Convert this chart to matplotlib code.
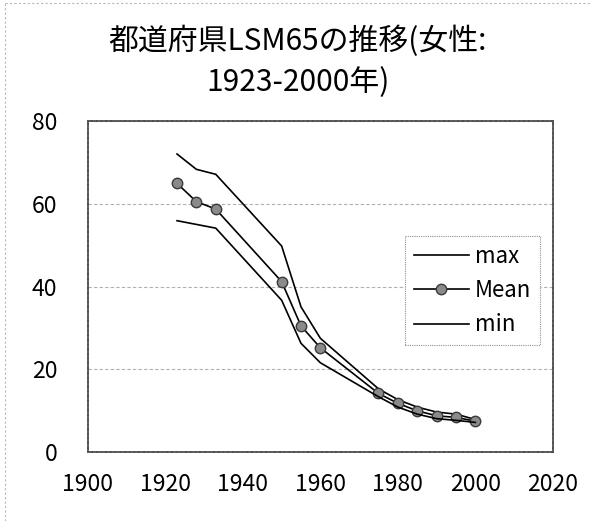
import matplotlib
matplotlib.use("Agg")
from matplotlib import pyplot as plt
from matplotlib.lines import Line2D

plt.rcParams['font.family'] = ['Noto Sans CJK JP', 'DejaVu Sans']

# data
years = [1923, 1928, 1933, 1950, 1955, 1960, 1975, 1980, 1985, 1990, 1995, 2000]
lsm_max = [72.0, 68.3, 67.1, 49.8, 35.1, 27.5, 15.3, 12.7, 10.9, 9.7, 9.2, 7.9]
lsm_mean = [64.9, 60.5, 58.7, 41.2, 30.5, 25.2, 14.2, 11.8, 10.0, 8.8, 8.4, 7.5]
lsm_min = [55.9, 55.0, 54.1, 36.7, 26.3, 21.6, 13.4, 10.9, 9.2, 8.1, 7.7, 7.2]

x_ticks = [1900, 1920, 1940, 1960, 1980, 2000, 2020]
y_ticks = [0, 20, 40, 60, 80]
title = "都道府県LSM65の推移(女性:\n1923-2000年)"

fig = plt.figure(figsize=(5.9, 5.21), dpi=100)
ax = fig.add_axes([0.149, 0.132, 0.788, 0.636])

ax.plot(years, lsm_max, color="black", lw=1.2, label="max")
ax.plot(years, lsm_mean, color="black", lw=1.2, marker="o", markersize=7.5,
        markerfacecolor="#8a8a8a", markeredgecolor="#3a3a3a", markeredgewidth=1.0,
        label="Mean")
ax.plot(years, lsm_min, color="black", lw=1.2, label="min")

ax.set_xlim(1900, 2020)
ax.set_ylim(0, 80)
ax.set_xticks(x_ticks)
ax.set_yticks(y_ticks)
ax.tick_params(axis="both", length=0, labelsize=16.5)
ax.tick_params(axis="x", pad=15)
ax.tick_params(axis="y", pad=22)

ax.grid(axis="y", color="#b0b0b0", linestyle=(0, (3, 2)), lw=0.8)
ax.set_axisbelow(True)
for s in ax.spines.values():
    s.set_color("#505050")
    s.set_linewidth(1.3)
    s.set_linestyle((0, (2, 0.6)))

leg = ax.legend(loc="upper right", bbox_to_anchor=(0.972, 0.652), fontsize=16,
                handlelength=2.5, handletextpad=0.25, labelspacing=0.5,
                borderpad=0.4, borderaxespad=0, fancybox=False, framealpha=1)
leg.get_frame().set_edgecolor("#909090")
leg.get_frame().set_linestyle((0, (1, 1)))
leg.get_frame().set_linewidth(0.8)

fig.text(0.505, 0.881, title, ha="center", va="center", fontsize=21.5,
         linespacing=1.42)

# faint outer border of the chart area
fig.add_artist(Line2D([0.008, 0.008], [0, 0.995], transform=fig.transFigure,
                      color="#b8b8b8", lw=0.8, linestyle=(0, (2, 2))))
fig.add_artist(Line2D([0.008, 1], [0.995, 0.995], transform=fig.transFigure,
                      color="#b8b8b8", lw=0.8, linestyle=(0, (2, 2))))

plt.savefig("out.png", dpi=100)
